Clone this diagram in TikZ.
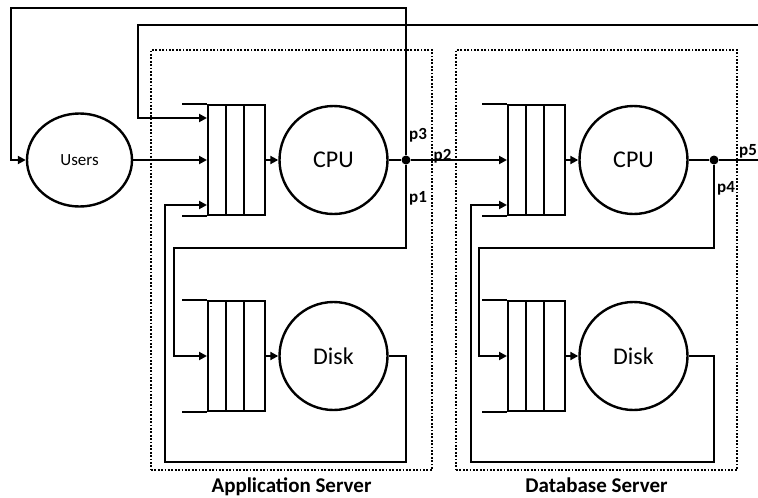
\documentclass[tikz,border=0pt]{standalone}
\usepackage{fontspec}
\setmainfont{Carlito}
\usetikzlibrary{arrows.meta, positioning, shapes.geometric}

\tikzset{
  queue/.style={draw, line width=2pt, minimum width=57pt, minimum height=110pt, inner sep=0pt,
    path picture={
      \draw[line width=2pt]
        ([xshift=18pt]path picture bounding box.north west) -- ([xshift=18pt]path picture bounding box.south west)
        ([xshift=36pt]path picture bounding box.north west) -- ([xshift=36pt]path picture bounding box.south west);
    }},
  station/.style={circle, draw, line width=2.4pt, minimum size=108pt, inner sep=0pt,
    font=\fontsize{24}{28}\selectfont},
  junction/.style={circle, fill, inner sep=0pt, minimum size=9pt},
  srvbox/.style={draw, line width=2.8pt, dash pattern=on 1.8pt off 1.6pt,
    minimum width=281pt, minimum height=420pt},
  srvlabel/.style={font=\bfseries\fontsize{21}{24}\selectfont},
  plabel/.style={font=\bfseries\fontsize{17}{20}\selectfont, inner sep=1pt},
  flow/.style={line width=2.8pt, -{Triangle[length=8pt,width=8pt]}},
  wire/.style={line width=2.8pt},
}

\begin{document}
\begin{tikzpicture}[x=1pt, y=-1pt, node distance=1cm, on grid]
  \useasboundingbox (0,0) rectangle (758,498);
  \clip (0,0) rectangle (758,498);

  % servers
  \node[srvbox] (appbox) at (291.5,260) {};
  \node[srvbox] (dbbox) [right=305pt of appbox] {};
  \node[srvlabel, anchor=north] (applbl) at ([yshift=-3pt]appbox.south) {Application Server};
  \node[srvlabel, anchor=north] (dblbl) at ([yshift=-3pt]dbbox.south) {Database Server};

  % stations and queues
  \node[ellipse, draw, line width=2.4pt, minimum width=105pt, minimum height=93pt,
    font=\fontsize{17}{20}\selectfont] (users) at (79.5,160) {Users};
  \node[queue] (appq) at (236.5,160) {};
  \node[station] (cpu1) [right=97pt of appq] {CPU};
  \node[junction] (dot1) [right=72.5pt of cpu1] {};
  \node[queue] (dbq) [right=300pt of appq] {};
  \node[station] (cpu2) [right=97pt of dbq] {CPU};
  \node[junction] (dot2) [right=80.5pt of cpu2] {};
  \node[queue] (disk1q) [below=196pt of appq] {};
  \node[station] (disk1) [right=97pt of disk1q] {Disk};
  \node[queue] (disk2q) [below=196pt of dbq] {};
  \node[station] (disk2) [right=97pt of disk2q] {Disk};

  % open ends of the queues
  \foreach \q in {appq, dbq, disk1q, disk2q}
    \draw[line width=2pt] (\q.north west) -- ++(-25,0) (\q.south west) -- ++(-25,0);

  % branch labels
  \node[plabel] (lp3) [above right=25pt and 12pt of dot1] {p3};
  \node[plabel] (lp1) [below right=38.5pt and 12pt of dot1] {p1};
  \node[plabel] (lp2) [above right=3.5pt and 36.5pt of dot1] {p2};
  \node[plabel] (lp4) [below right=28.5pt and 12pt of dot2] {p4};
  \node[plabel] (lp5) [above right=8.5pt and 34pt of dot2] {p5};

  % turning points
  \coordinate (ret1) at (11,8);
  \coordinate (ret2) at (138,25);
  \coordinate (edge) at (775,25);
  \coordinate (p1turn) at (174,248);
  \coordinate (p4turn) at (479,248);
  \coordinate (loop1) at (165,462);
  \coordinate (loop2) at (471,462);

  % application server
  \draw[flow] (users) -- (appq);
  \draw[flow] (appq) -- (cpu1);
  \draw[wire] (cpu1) -- (dot1);
  \draw[flow] (dot1) |- (ret1) |- (users);
  \draw[flow] (dot1) -- (dbq);
  \draw[flow] (dot1) |- (p1turn) |- (disk1q);
  \draw[flow] (disk1q) -- (disk1);
  \draw[flow] (disk1.east) -- (disk1.east -| dot1) |- (loop1) |- ([yshift=-45pt]appq.west);

  % database server
  \draw[flow] (dbq) -- (cpu2);
  \draw[wire] (cpu2) -- (dot2);
  \draw[flow] (dot2) -| (edge) -- (ret2) |- ([yshift=42pt]appq.west);
  \draw[flow] (dot2) |- (p4turn) |- (disk2q);
  \draw[flow] (disk2q) -- (disk2);
  \draw[flow] (disk2.east) -- (disk2.east -| dot2) |- (loop2) |- ([yshift=-45pt]dbq.west);
\end{tikzpicture}
\end{document}
